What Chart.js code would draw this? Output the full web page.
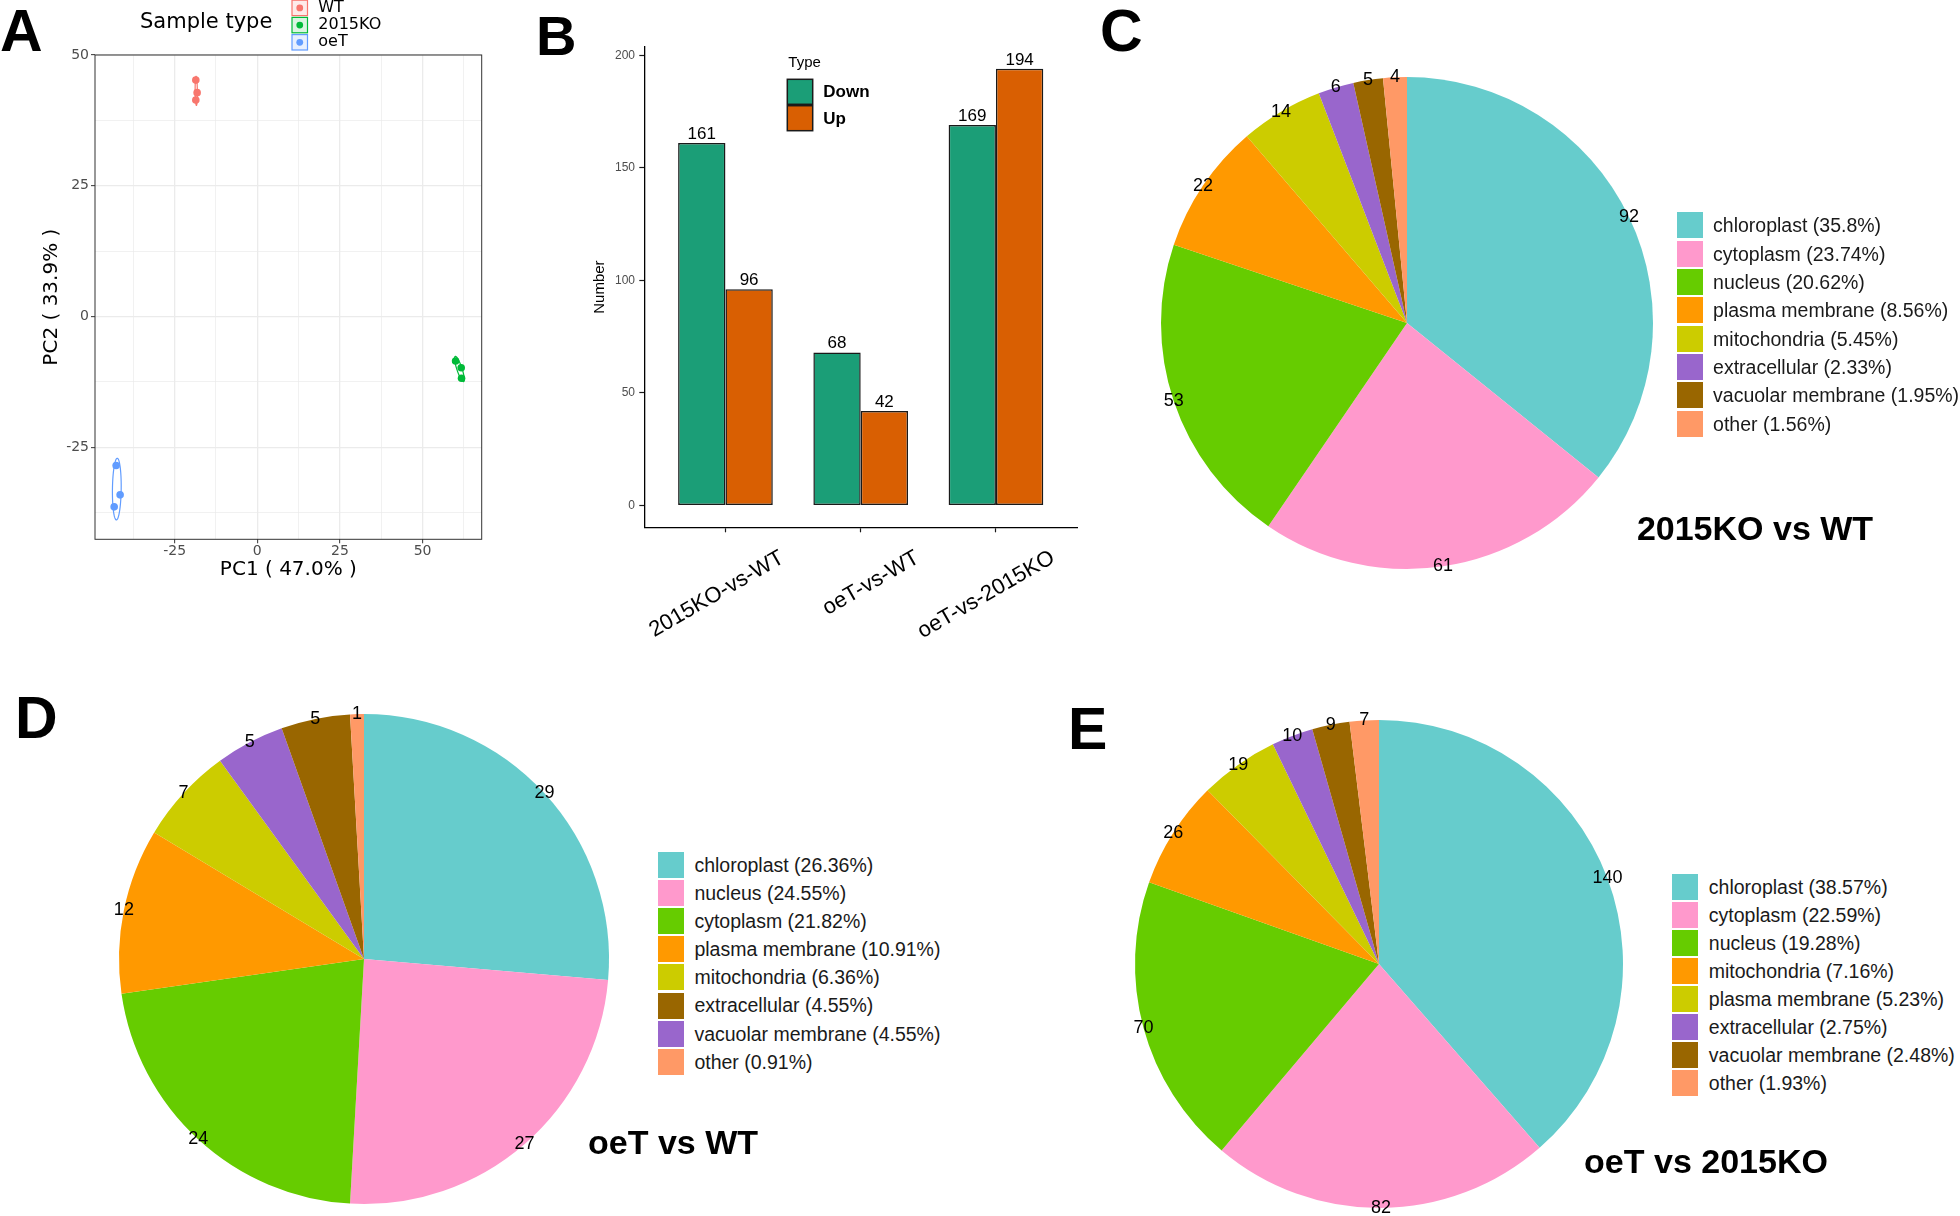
<!DOCTYPE html>
<html>
<head>
<meta charset="utf-8">
<script src="https://cdn.jsdelivr.net/npm/chart.js@4.4.0/dist/chart.umd.min.js"></script>
<style>
html, body { margin: 0; padding: 0; background: #fff; }
body { position: relative; width: 1960px; height: 1216px; overflow: hidden; font-family: 'Liberation Sans', Arial, sans-serif; }
canvas { position: absolute; }
.tag { position: absolute; font-weight: bold; line-height: 1; color: #000; }
.ptitle { position: absolute; font-weight: bold; font-size: 34px; line-height: 1; color: #000; white-space: nowrap; transform: translateX(-50%); }
.legend { position: absolute; }
.legend .row { display: flex; align-items: center; }
.legend .sw { width: 26px; height: 26px; margin-right: 10.4px; flex: none; }
.legend .tx { font-size: 19.5px; color: #1a1a1a; white-space: nowrap; }
</style>
</head>
<body>
<canvas id="chartA" width="500" height="600" style="left:0px;top:0px;width:500px;height:600px"></canvas>
<canvas id="chartB" width="600" height="680" style="left:500px;top:0px;width:600px;height:680px"></canvas>
<canvas id="chartC" width="552" height="552" style="left:1131px;top:47px;width:552px;height:552px"></canvas>
<canvas id="chartD" width="550" height="550" style="left:89px;top:684px;width:550px;height:550px"></canvas>
<canvas id="chartE" width="548" height="548" style="left:1105px;top:690px;width:548px;height:548px"></canvas>

<div class="tag" style="left:0px;top:2px;font-size:59px">A</div>
<div class="tag" style="left:536px;top:8px;font-size:56px">B</div>
<div class="tag" style="left:1100px;top:2px;font-size:59px">C</div>
<div class="tag" style="left:15px;top:689px;font-size:59px">D</div>
<div class="tag" style="left:1068px;top:700px;font-size:59px">E</div>

<div class="ptitle" style="left:1755px;top:511px">2015KO vs WT</div>
<div class="ptitle" style="left:673px;top:1125px">oeT vs WT</div>
<div class="ptitle" style="left:1706px;top:1144px">oeT vs 2015KO</div>

<script>
// PCA scores (panel A)
const sampleTypes = ['WT', '2015KO', 'oeT'];
const sampleColors = ['#F8766D', '#00BA38', '#619CFF'];
const wtPC1 = [-18.6, -18.2, -18.6];
const wtPC2 = [45.2, 42.8, 41.4];
const koPC1 = [60.0, 61.7, 61.8];
const koPC2 = [-8.5, -9.8, -11.8];
const oePC1 = [-42.7, -41.5, -43.3];
const oePC2 = [-28.5, -34.1, -36.4];
const pcaMajorTicks = [-25, 0, 25, 50];
const pcaXMinorTicks = [-37.5, -12.5, 12.5, 37.5, 62.5];
const pcaYMinorTicks = [-37.5, -12.5, 12.5, 37.5];

// DEG counts (panel B)
const comparisons = ['2015KO-vs-WT', 'oeT-vs-WT', 'oeT-vs-2015KO'];
const downCounts = [161, 68, 169];
const upCounts = [96, 42, 194];
const numberTicks = [0, 50, 100, 150, 200];

// subcellular location pies (C, D, E)
const pieColors = ['#66CCCC', '#FF99CC', '#66CC00', '#FF9900', '#CCCC00', '#9966CC', '#996600', '#FF9966'];
const cLabels = ['chloroplast', 'cytoplasm', 'nucleus', 'plasma membrane', 'mitochondria', 'extracellular', 'vacuolar membrane', 'other'];
const cValues = [92, 61, 53, 22, 14, 6, 5, 4];
const dLabels = ['chloroplast', 'nucleus', 'cytoplasm', 'plasma membrane', 'mitochondria', 'vacuolar membrane', 'extracellular', 'other'];
const dValues = [29, 27, 24, 12, 7, 5, 5, 1];
const dLegendOrder = [0, 1, 2, 3, 4, 6, 5, 7];
const eLabels = ['chloroplast', 'cytoplasm', 'nucleus', 'mitochondria', 'plasma membrane', 'extracellular', 'vacuolar membrane', 'other'];
const eValues = [140, 82, 70, 26, 19, 10, 9, 7];

const ELLIPSE_SCALE = 1.45;

Chart.defaults.font.family = "'Liberation Sans', Arial, sans-serif";
Chart.defaults.color = '#000';

function toPoints(xs, ys) {
    return xs.map(function (x, i) { return { x: x, y: ys[i] }; });
}

// covariance ellipse round each group, like stat_ellipse
const ellipsePlugin = {
    id: 'ellipses',
    beforeDatasetsDraw(chart) {
        const ctx = chart.ctx, sx = chart.scales.x, sy = chart.scales.y;
        chart.data.datasets.forEach(function (ds) {
            const px = ds.data.map(p => p.x), py = ds.data.map(p => p.y);
            const n = px.length;
            const mx = px.reduce((a, b) => a + b, 0) / n;
            const my = py.reduce((a, b) => a + b, 0) / n;
            let sxx = 0, syy = 0, sxy = 0;
            for (let i = 0; i < n; i++) {
                const dx = px[i] - mx, dy = py[i] - my;
                sxx += dx * dx; syy += dy * dy; sxy += dx * dy;
            }
            sxx /= n - 1; syy /= n - 1; sxy /= n - 1;
            const tr = sxx + syy;
            const disc = Math.sqrt(Math.max(tr * tr / 4 - (sxx * syy - sxy * sxy), 0));
            const l1 = tr / 2 + disc, l2 = Math.max(tr / 2 - disc, 0);
            const th = Math.atan2(l1 - sxx, sxy);
            ctx.save();
            ctx.strokeStyle = ds.borderColor;
            ctx.lineWidth = 1.2;
            ctx.beginPath();
            for (let k = 0; k <= 120; k++) {
                const t = k / 120 * Math.PI * 2;
                const a = ELLIPSE_SCALE * Math.sqrt(l1) * Math.cos(t);
                const b = ELLIPSE_SCALE * Math.sqrt(l2) * Math.sin(t);
                const X = sx.getPixelForValue(mx + a * Math.cos(th) - b * Math.sin(th));
                const Y = sy.getPixelForValue(my + a * Math.sin(th) + b * Math.cos(th));
                if (k === 0) ctx.moveTo(X, Y); else ctx.lineTo(X, Y);
            }
            ctx.closePath();
            ctx.stroke();
            ctx.restore();
        });
    }
};

const panelBorderPlugin = {
    id: 'panelBorder',
    afterDatasetsDraw(chart) {
        const a = chart.chartArea, ctx = chart.ctx;
        ctx.save();
        ctx.strokeStyle = '#333';
        ctx.lineWidth = 1;
        ctx.strokeRect(a.left, a.top, a.right - a.left, a.bottom - a.top);
        ctx.restore();
    }
};

const sampleLegendPlugin = {
    id: 'sampleLegend',
    afterDraw(chart) {
        const ctx = chart.ctx;
        ctx.save();
        ctx.textAlign = 'left';
        ctx.textBaseline = 'middle';
        ctx.fillStyle = '#000';
        ctx.font = '21px "DejaVu Sans"';
        ctx.fillText('Sample type', 140, 22.5);
        ctx.font = '16px "DejaVu Sans"';
        sampleTypes.forEach(function (name, i) {
            const cy = 7.9 + i * 17.2;
            const c = sampleColors[i];
            ctx.globalAlpha = 0.15;
            ctx.fillStyle = c;
            ctx.fillRect(292, cy - 7.7, 15.5, 15.4);
            ctx.globalAlpha = 1;
            ctx.strokeStyle = c;
            ctx.lineWidth = 1.2;
            ctx.strokeRect(292, cy - 7.7, 15.5, 15.4);
            ctx.fillStyle = c;
            ctx.beginPath();
            ctx.arc(299.75, cy, 3.4, 0, Math.PI * 2);
            ctx.fill();
            ctx.fillStyle = '#000';
            ctx.fillText(name, 318.3, cy);
        });
        ctx.restore();
    }
};

function isMajor(c) {
    return c.tick && pcaMajorTicks.indexOf(c.tick.value) !== -1;
}

new Chart(document.getElementById('chartA'), {
    type: 'scatter',
    data: {
        datasets: [
            { label: sampleTypes[0], data: toPoints(wtPC1, wtPC2), backgroundColor: sampleColors[0], borderColor: sampleColors[0] },
            { label: sampleTypes[1], data: toPoints(koPC1, koPC2), backgroundColor: sampleColors[1], borderColor: sampleColors[1] },
            { label: sampleTypes[2], data: toPoints(oePC1, oePC2), backgroundColor: sampleColors[2], borderColor: sampleColors[2] }
        ]
    },
    options: {
        responsive: false,
        animation: false,
        devicePixelRatio: 1,
        elements: { point: { radius: 3.8, borderWidth: 0, hoverRadius: 3.8 } },
        layout: { padding: { left: 40, top: 55, right: 18.3, bottom: 18 } },
        plugins: { legend: { display: false }, tooltip: { enabled: false } },
        scales: {
            x: {
                type: 'linear',
                min: -49.1,
                max: 67.9,
                afterBuildTicks: function (s) {
                    s.ticks = pcaMajorTicks.concat(pcaXMinorTicks).sort((a, b) => a - b).map(v => ({ value: v }));
                },
                afterFit: function (s) { s.height = 42.7; },
                ticks: {
                    autoSkip: false, maxRotation: 0, padding: 0, color: '#4D4D4D',
                    font: { family: 'DejaVu Sans', size: 14 },
                    callback: v => pcaMajorTicks.indexOf(v) !== -1 ? String(v) : ''
                },
                grid: {
                    color: '#EBEBEB',
                    lineWidth: c => isMajor(c) ? 1.3 : 0.7,
                    tickLength: 4,
                    tickWidth: 1,
                    tickColor: c => isMajor(c) ? '#333' : 'rgba(0,0,0,0)'
                },
                border: { display: false },
                title: { display: true, text: 'PC1 ( 47.0% )', color: '#000', padding: 0, font: { family: 'DejaVu Sans', size: 20 } }
            },
            y: {
                type: 'linear',
                min: -42.6,
                max: 50,
                afterBuildTicks: function (s) {
                    s.ticks = pcaMajorTicks.concat(pcaYMinorTicks).sort((a, b) => a - b).map(v => ({ value: v }));
                },
                afterFit: function (s) { s.width = 55; },
                ticks: {
                    autoSkip: false, padding: 2, color: '#4D4D4D',
                    font: { family: 'DejaVu Sans', size: 14 },
                    callback: v => pcaMajorTicks.indexOf(v) !== -1 ? String(v) : ''
                },
                grid: {
                    color: '#EBEBEB',
                    lineWidth: c => isMajor(c) ? 1.3 : 0.7,
                    tickLength: 4,
                    tickWidth: 1,
                    tickColor: c => isMajor(c) ? '#333' : 'rgba(0,0,0,0)'
                },
                border: { display: false },
                title: { display: true, text: 'PC2 ( 33.9% )', color: '#000', padding: 0, font: { family: 'DejaVu Sans', size: 20 } }
            }
        }
    },
    plugins: [ellipsePlugin, panelBorderPlugin, sampleLegendPlugin]
});

// panel B
const barValuePlugin = {
    id: 'barValues',
    afterDatasetsDraw(chart) {
        const ctx = chart.ctx;
        ctx.save();
        ctx.font = '17px "Liberation Sans"';
        ctx.fillStyle = '#000';
        ctx.textAlign = 'center';
        ctx.textBaseline = 'alphabetic';
        chart.data.datasets.forEach(function (ds, di) {
            chart.getDatasetMeta(di).data.forEach(function (bar, i) {
                ctx.fillText(String(ds.data[i].y), bar.x, bar.y - 4);
            });
        });
        ctx.restore();
    }
};

const comparisonLabelPlugin = {
    id: 'comparisonLabels',
    afterDraw(chart) {
        const ctx = chart.ctx, sx = chart.scales.x;
        ctx.save();
        ctx.font = '22px "Liberation Sans"';
        ctx.fillStyle = '#000';
        ctx.textAlign = 'right';
        ctx.textBaseline = 'middle';
        comparisons.forEach(function (lab, i) {
            const px = sx.getPixelForValue(i + 1);
            ctx.save();
            ctx.translate(px + 57, sx.top + 29);
            ctx.rotate(-Math.PI / 6);
            ctx.fillText(lab, 0, 0);
            ctx.restore();
        });
        ctx.restore();
    }
};

const typeLegendPlugin = {
    id: 'typeLegend',
    afterDraw(chart) {
        const ctx = chart.ctx;
        ctx.save();
        ctx.textAlign = 'left';
        ctx.textBaseline = 'middle';
        ctx.fillStyle = '#000';
        ctx.font = '15px "Liberation Sans"';
        ctx.fillText('Type', 288.3, 62.5);
        ctx.font = 'bold 17px "Liberation Sans"';
        chart.data.datasets.forEach(function (ds, i) {
            const top = 79.3 + i * 26.4;
            ctx.fillStyle = ds.backgroundColor;
            ctx.fillRect(287.3, top, 25.4, 25);
            ctx.strokeStyle = '#1a1a1a';
            ctx.lineWidth = 1.5;
            ctx.strokeRect(287.3, top, 25.4, 25);
            ctx.fillStyle = '#000';
            ctx.fillText(ds.label, 323.3, top + 13.5);
        });
        ctx.restore();
    }
};

new Chart(document.getElementById('chartB'), {
    type: 'bar',
    data: {
        datasets: [
            {
                label: 'Down',
                data: comparisons.map((c, i) => ({ x: i + 1, y: downCounts[i] })),
                backgroundColor: '#1B9E77', borderColor: '#1a1a1a', borderWidth: 1.5, borderSkipped: false,
                categoryPercentage: 0.7, barPercentage: 1
            },
            {
                label: 'Up',
                data: comparisons.map((c, i) => ({ x: i + 1, y: upCounts[i] })),
                backgroundColor: '#D95F02', borderColor: '#1a1a1a', borderWidth: 1.5, borderSkipped: false,
                categoryPercentage: 0.7, barPercentage: 1
            }
        ]
    },
    options: {
        responsive: false,
        animation: false,
        devicePixelRatio: 1,
        layout: { padding: { left: 91, top: 46.9, right: 22.9, bottom: 0 } },
        plugins: { legend: { display: false }, tooltip: { enabled: false } },
        scales: {
            x: {
                type: 'linear',
                offset: false,
                min: 0.4,
                max: 3.6,
                afterBuildTicks: function (s) { s.ticks = comparisons.map((c, i) => ({ value: i + 1 })); },
                afterFit: function (s) { s.height = 152.7; },
                ticks: { callback: () => '' },
                grid: { display: true, offset: false, drawOnChartArea: false, drawTicks: true, tickLength: 5, tickColor: '#1a1a1a', tickWidth: 1.2 },
                border: { display: true, color: '#000', width: 1.3 }
            },
            y: {
                min: -9.7,
                max: 203.7,
                afterBuildTicks: function (s) { s.ticks = numberTicks.map(v => ({ value: v })); },
                afterFit: function (s) { s.width = 53.3; },
                ticks: { color: '#4D4D4D', padding: 4.3, font: { size: 12 } },
                grid: { display: true, drawOnChartArea: false, drawTicks: true, tickLength: 5, tickColor: '#1a1a1a', tickWidth: 1.2 },
                border: { display: true, color: '#000', width: 1.3 },
                title: { display: true, text: 'Number', color: '#000', padding: 0, font: { size: 15 } }
            }
        }
    },
    plugins: [barValuePlugin, comparisonLabelPlugin, typeLegendPlugin]
});

// pies
const sliceLabelPlugin = {
    id: 'sliceLabels',
    afterDatasetsDraw(chart) {
        const ctx = chart.ctx;
        const vals = chart.data.datasets[0].data;
        ctx.save();
        ctx.font = '18px "Liberation Sans"';
        ctx.fillStyle = '#000';
        ctx.textAlign = 'center';
        ctx.textBaseline = 'middle';
        chart.getDatasetMeta(0).data.forEach(function (arc, i) {
            const p = arc.getProps(['x', 'y', 'startAngle', 'endAngle', 'outerRadius'], true);
            const a = (p.startAngle + p.endAngle) / 2;
            ctx.fillText(String(vals[i]), p.x + Math.cos(a) * p.outerRadius, p.y + Math.sin(a) * p.outerRadius);
        });
        ctx.restore();
    }
};

function makePie(id, labels, values, radius) {
    return new Chart(document.getElementById(id), {
        type: 'pie',
        data: {
            labels: labels,
            datasets: [{ data: values, backgroundColor: pieColors, borderWidth: 0, radius: radius }]
        },
        options: {
            responsive: false,
            animation: false,
            devicePixelRatio: 1,
            radius: radius,
            layout: { padding: 0 },
            plugins: { legend: { display: false }, tooltip: { enabled: false } }
        },
        plugins: [sliceLabelPlugin]
    });
}

function buildLegend(left, firstCenter, pitch, labels, values, order) {
    const total = values.reduce((a, b) => a + b, 0);
    const box = document.createElement('div');
    box.className = 'legend';
    box.style.left = left + 'px';
    box.style.top = (firstCenter - pitch / 2) + 'px';
    order.forEach(function (i) {
        const row = document.createElement('div');
        row.className = 'row';
        row.style.height = pitch + 'px';
        const sw = document.createElement('div');
        sw.className = 'sw';
        sw.style.background = pieColors[i];
        const tx = document.createElement('div');
        tx.className = 'tx';
        tx.style.lineHeight = pitch + 'px';
        tx.textContent = labels[i] + ' (' + (+(values[i] / total * 100).toFixed(2)) + '%)';
        row.appendChild(sw);
        row.appendChild(tx);
        box.appendChild(row);
    });
    document.body.appendChild(box);
}

makePie('chartC', cLabels, cValues, 246);
makePie('chartD', dLabels, dValues, 245);
makePie('chartE', eLabels, eValues, 244);

buildLegend(1676.7, 225.5, 28.33, cLabels, cValues, [0, 1, 2, 3, 4, 5, 6, 7]);
buildLegend(658, 864.6, 28.2, dLabels, dValues, dLegendOrder);
buildLegend(1672.4, 886.8, 28.1, eLabels, eValues, [0, 1, 2, 3, 4, 5, 6, 7]);
</script>
</body>
</html>
